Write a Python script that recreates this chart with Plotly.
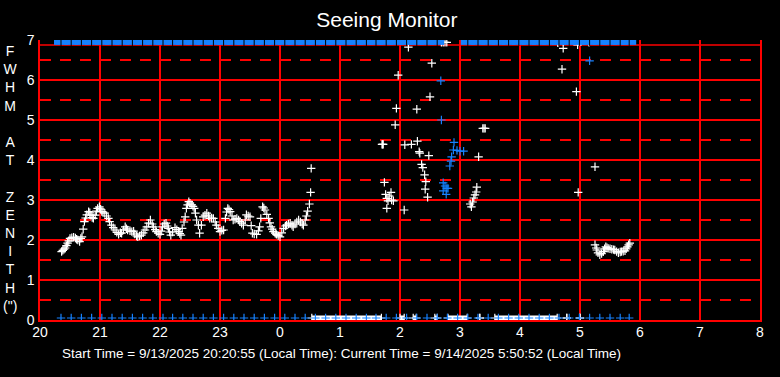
import plotly.graph_objects as go

# ---------------- data (hours since midnight of 9/13; 24+ = next day) -------------
white_t = [20.36,20.38,20.40,20.42,20.44,20.46,20.48,20.50,20.53,20.56,20.59,20.61,20.63,20.66,20.68,20.70,20.72,20.74,20.76,20.78,20.81,20.83,20.85,20.87,20.89,20.92,20.94,20.96,20.99,21.01,21.03,21.05,21.08,21.11,21.14,21.16,21.19,21.22,21.25,21.28,21.31,21.34,21.36,21.39,21.42,21.44,21.46,21.50,21.53,21.56,21.58,21.61,21.63,21.66,21.69,21.72,21.75,21.78,21.81,21.84,21.87,21.89,21.92,21.94,21.97,22.00,22.02,22.04,22.07,22.10,
           22.12,22.14,22.16,22.18,22.21,22.25,22.28,22.31,22.33,22.35,22.37,22.40,22.42,22.44,22.46,22.48,22.50,22.53,22.55,22.57,22.59,22.61,22.64,22.66,22.69,22.72,22.75,22.78,22.81,22.83,22.86,22.89,22.92,22.94,22.97,23.00,23.03,23.06,23.09,23.11,23.13,23.15,23.17,23.20,23.22,23.25,23.28,23.31,23.33,23.36,23.39,23.42,23.44,23.47,23.50,23.52,23.54,23.57,23.61,23.64,23.66,23.68,23.71,23.73,23.75,23.78,23.81,23.83,23.85,23.87,23.89,23.92,23.94,23.97,24.00,24.03,24.06,24.09,24.11,24.14,24.17,24.20,24.22,
           24.25,24.28,24.31,24.34,24.37,24.39,24.42,24.44,24.46,24.49,24.51,24.52,
           25.70,25.71,25.72,25.74,25.76,25.78,25.80,25.82,25.85,25.86,25.89,25.78,25.92,25.94,25.97,26.14,26.07,26.08,26.19,26.28,26.29,26.32,26.33,26.36,26.38,26.41,26.43,26.42,26.46,26.48,26.50,26.53,
           26.69,26.72,26.75,26.78,
           27.19,27.17,27.21,27.23,27.25,27.27,27.28,27.31,27.38,27.40,27.42,
           28.63,28.72,28.70,28.94,28.96,28.97,29.15,29.25,
           29.25,29.27,29.28,29.30,29.33,29.36,29.39,29.41,29.43,29.45,29.47,29.50,29.53,29.56,29.58,29.61,29.64,29.67,29.69,29.72,29.75,29.77,29.79,29.81,29.83]
white_v = [1.71,1.74,1.77,1.80,1.86,1.92,1.98,2.04,2.06,2.07,2.05,2.02,2.00,1.96,2.04,2.08,2.27,2.46,2.55,2.63,2.71,2.68,2.62,2.56,2.54,2.62,2.72,2.79,2.83,2.77,2.71,2.70,2.67,2.60,2.54,2.46,2.37,2.31,2.25,2.19,2.14,2.18,2.17,2.25,2.33,2.28,2.25,2.23,2.21,2.22,2.15,2.10,2.08,2.10,2.12,2.18,2.25,2.33,2.42,2.50,2.40,2.33,2.26,2.21,2.17,2.14,2.22,2.33,2.40,2.42,
           2.35,2.29,2.20,2.12,2.20,2.31,2.26,2.21,2.16,2.12,2.29,2.45,2.58,2.79,2.88,2.96,2.92,2.88,2.84,2.79,2.67,2.50,2.37,2.17,2.37,2.58,2.62,2.67,2.60,2.54,2.55,2.54,2.45,2.37,2.29,2.21,2.24,2.25,2.54,2.70,2.79,2.76,2.71,2.60,2.50,2.52,2.54,2.50,2.46,2.42,2.37,2.50,2.63,2.60,2.58,2.36,2.17,2.15,2.14,2.23,2.33,2.54,2.83,2.80,2.75,2.64,2.54,2.43,2.33,2.27,2.21,2.17,2.14,2.11,2.08,2.18,2.29,2.35,2.37,2.40,2.42,2.37,2.33,
           2.40,2.45,2.50,2.45,2.40,2.37,2.50,2.60,2.72,2.90,3.19,3.79,
           4.39,4.39,4.39,3.44,3.14,3.04,2.98,3.10,3.19,3.00,2.98,2.79,4.88,5.29,6.12,6.82,2.75,4.38,4.39,5.27,4.47,4.21,4.17,3.89,3.81,3.63,3.46,3.27,3.07,4.11,5.58,6.42,
           6.94,6.94,6.94,6.94,
           2.83,2.90,2.95,3.05,3.13,3.20,3.32,4.08,4.79,4.79,4.79,
           6.93,6.79,6.27,5.71,6.88,3.19,6.94,3.83,
           1.88,1.80,1.75,1.68,1.63,1.66,1.71,1.78,1.83,1.81,1.79,1.78,1.77,1.76,1.75,1.71,1.68,1.70,1.71,1.72,1.73,1.78,1.83,1.88,1.92]

# white readings at the floor (runs of consecutive zero readings: start, end)
white_zero_start = [24.53, 26.00, 26.22, 26.58, 26.80, 27.33, 27.58, 28.78, 29.00]
white_zero_end   = [25.69, 26.07, 26.27, 26.62, 27.12, 27.33, 28.62, 28.78, 29.00]
floor_value = 0.05
ceiling_value = 6.94

# blue series: 10-minute samples
blue_t = [20.35,20.52,20.69,20.86,21.03,21.20,21.37,21.54,21.71,21.88,22.05,22.21,22.38,22.55,22.72,22.89,
          23.06,23.23,23.40,23.57,23.74,23.91,24.08,24.25,24.42,24.59,24.76,24.93,25.10,25.27,25.44,25.60,
          25.77,25.94,26.11,26.28,26.45,26.62,26.79,26.96,27.13,27.30,27.47,27.64,27.81,27.98,28.15,28.32,
          28.49,28.65,28.82,28.99,29.16,29.33,29.50,29.67,29.82]
blue_top_t = blue_t[:38] + blue_t[40:]
blue_mid_t = [26.68,26.69,26.90,26.89,26.95,27.00,27.06,26.86,26.85,26.83,26.72,26.75,26.78,26.80,26.72,26.77,29.16]
blue_mid_v = [5.98,5.00,4.44,4.25,4.24,4.22,4.22,4.08,3.97,3.85,3.43,3.35,3.29,3.29,3.23,3.14,6.48]

x_tickvals = [20,21,22,23,24,25,26,27,28,29,30,31,32]
x_ticktext = ["20","21","22","23","0","1","2","3","4","5","6","7","8"]
y_tickvals = [0,1,2,3,4,5,6,7]

BLUE = "#1682FF"
RED = "#FF0000"

def cross(color):
    return dict(symbol="cross-thin-open", size=6, color=color, line=dict(color=color, width=1.2))

fig = go.Figure()

# white floor runs
zx, zy = [], []
for s, e in zip(white_zero_start, white_zero_end):
    zx += [s, e, None]
    zy += [floor_value, floor_value, None]
fig.add_trace(go.Scatter(x=zx, y=zy, mode="lines+markers",
                         line=dict(color="white", width=5),
                         marker=cross("white"), hoverinfo="skip", showlegend=False))

fig.add_trace(go.Scatter(x=white_t, y=white_v, mode="markers",
                         marker=cross("white"), showlegend=False))

# blue at ceiling
fig.add_trace(go.Scatter(x=blue_top_t, y=[ceiling_value]*len(blue_top_t), mode="markers",
                         marker=dict(symbol="line-ew-open", size=10, color=BLUE, line=dict(color=BLUE, width=5)),
                         showlegend=False))
fig.add_trace(go.Scatter(x=blue_top_t, y=[ceiling_value]*len(blue_top_t), mode="markers",
                         marker=dict(symbol="line-ns-open", size=5, color="black", line=dict(color="black", width=1)),
                         showlegend=False, hoverinfo="skip"))
# blue at floor
fig.add_trace(go.Scatter(x=blue_t, y=[floor_value]*len(blue_t), mode="markers",
                         marker=cross(BLUE), showlegend=False))
# blue mid readings
fig.add_trace(go.Scatter(x=blue_mid_t, y=blue_mid_v, mode="markers",
                         marker=cross(BLUE), showlegend=False))

fig.update_layout(
    width=780, height=377,
    margin=dict(l=40, r=20, t=40, b=57, autoexpand=False),
    paper_bgcolor="black", plot_bgcolor="black",
    font=dict(family="Liberation Sans, Arial, sans-serif", color="white"),
    title=dict(text="Seeing Monitor", x=0.496, xanchor="center", y=0.947, yanchor="middle",
               font=dict(size=21, color="white")),
    xaxis=dict(range=[20, 32], tickvals=x_tickvals, ticktext=x_ticktext, automargin=False,
               showgrid=True, gridcolor=RED, gridwidth=1.5, zeroline=False,
               showline=True, linecolor=RED, linewidth=1.5, mirror=False,
               ticks="", tickfont=dict(size=14, color="white"), ticklabelstandoff=-2),
    yaxis=dict(range=[0, 7], tickvals=y_tickvals, automargin=False,
               showgrid=True, gridcolor=RED, gridwidth=1.5, zeroline=False,
               showline=True, linecolor=RED, linewidth=1.5, mirror=True,
               ticks="", tickfont=dict(size=14, color="white"), ticklabelstandoff=1,
               minor=dict(dtick=0.5, tick0=0, showgrid=True, gridcolor=RED, gridwidth=1.5,
                          griddash="11px,9px", ticks="")),
    shapes=[dict(type="line", xref="paper", x0=0, x1=1, yref="y", y0=6.875, y1=6.875,
                 line=dict(color=RED, width=1.5), layer="below")],
    annotations=[
        dict(text="F<br>W<br>H<br>M<br> <br>A<br>T<br> <br>Z<br>E<br>N<br>I<br>T<br>H<br>(\")",
             xref="paper", yref="paper", x=-0.0403, y=0.504, xanchor="center", yanchor="middle",
             showarrow=False, font=dict(size=14, color="white")),
        dict(text="Start Time = 9/13/2025 20:20:55 (Local Time): Current Time = 9/14/2025 5:50:52 (Local Time)",
             xref="paper", yref="paper", x=0.419, y=-0.121, xanchor="center", yanchor="middle",
             showarrow=False, font=dict(size=13.5, color="white")),
    ],
)

fig.write_html("out.html", config={"displayModeBar": False},
               post_script="document.body.style.margin='0';document.body.style.background='black';")
